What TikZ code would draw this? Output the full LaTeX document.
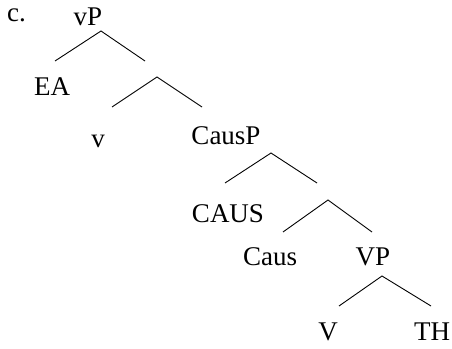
\documentclass[tikz,border=0pt]{standalone}
\usepackage{fontspec}
\setmainfont{Liberation Serif}
\begin{document}
\begin{tikzpicture}[x=1pt,y=-1pt,
  lab/.style={anchor=base,inner sep=0pt,font=\fontsize{27}{32}\selectfont},
  branch/.style={line width=0.9pt,black}]
\useasboundingbox (0,0) rectangle (452,348);
% labels
\node[lab,anchor=base west] (c) at (7,21) {c.};
\node[lab] (vP) at (88,25) {vP};
\node[lab] (EA) at (52,95) {EA};
\node[lab] (v) at (98,147) {v};
\node[lab] (CausP) at (226,144) {CausP};
\node[lab] (CAUS) at (228,222) {CAUS};
\node[lab] (Caus) at (270,265) {Caus};
\node[lab] (VP) at (373,265) {VP};
\node[lab] (V) at (328,340) {V};
\node[lab] (TH) at (432,340) {TH};
% branch points
\coordinate (a1) at (101,31);
\coordinate (l1) at (55,61);
\coordinate (r1) at (145,61);
\coordinate (a2) at (157,77);
\coordinate (l2) at (112,107);
\coordinate (r2) at (202,107);
\coordinate (a3) at (271,153);
\coordinate (l3) at (225,183);
\coordinate (r3) at (317,183);
\coordinate (a4) at (328,200);
\coordinate (l4) at (283,232);
\coordinate (r4) at (372,232);
\coordinate (a5) at (382,276);
\coordinate (l5) at (339,306);
\coordinate (r5) at (431,306);
\draw[branch] (l1) -- (a1) -- (r1);
\draw[branch] (l2) -- (a2) -- (r2);
\draw[branch] (l3) -- (a3) -- (r3);
\draw[branch] (l4) -- (a4) -- (r4);
\draw[branch] (l5) -- (a5) -- (r5);
\end{tikzpicture}
\end{document}
